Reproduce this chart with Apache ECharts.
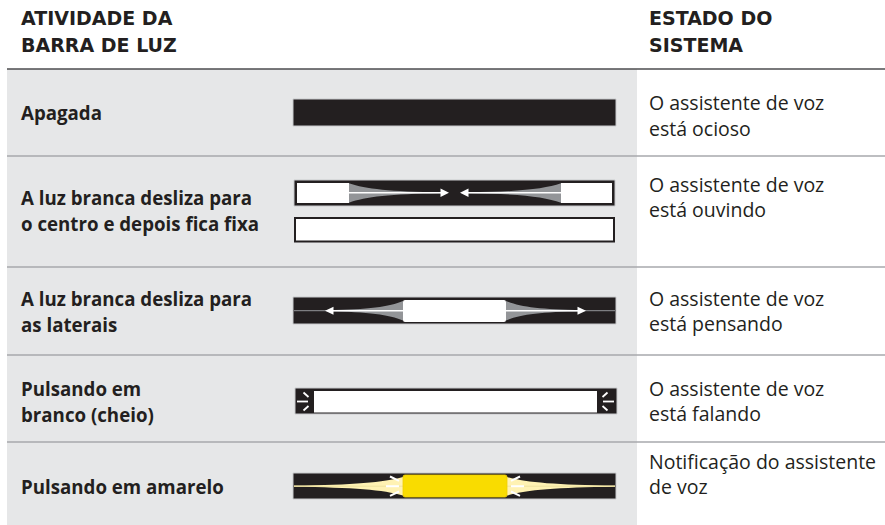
<!DOCTYPE html>
<html>
<head>
<meta charset="utf-8">
<script src="https://cdn.jsdelivr.net/npm/echarts/dist/echarts.min.js"></script>
<style>
html,body{margin:0;padding:0;background:#ffffff;}
#chart{width:885px;height:525px;}
</style>
</head>
<body>
<div id="chart"></div>
<script>
// ---- content ----
const headerActivity = 'ATIVIDADE DA\nBARRA DE LUZ';
const headerState = 'ESTADO DO\nSISTEMA';
const activities = [
  'Apagada',
  'A luz branca desliza para\no centro e depois fica fixa',
  'A luz branca desliza para\nas laterais',
  'Pulsando em\nbranco (cheio)',
  'Pulsando em amarelo'
];
const states = [
  'O assistente de voz\nestá ocioso',
  'O assistente de voz\nestá ouvindo',
  'O assistente de voz\nestá pensando',
  'O assistente de voz\nestá falando',
  'Notificação do assistente\nde voz'
];
const patterns = ['off', 'slideToCenter', 'slideToSides', 'pulseWhite', 'pulseYellow'];

// ---- layout (pixels on a 1:1 value grid) ----
const W = 885, H = 525;
const rowLines = [69, 156, 267, 355, 442, 525];
const leftCenters = [112.5, 210, 311, 401, 486];
const rightCenters = [115.5, 197, 311, 401, 474];
const DARK = '#231f20', GRAY = '#939598', BG = '#e6e7e8', LINE = '#a7a9ac';
const FONT = '"Open Sans", "Noto Sans", sans-serif';
const HFONT = '"DejaVu Sans", "Open Sans", sans-serif';

function renderRow(params, api) {
  const i = api.value(0);
  const P = (x, y) => api.coord([x, y]);
  const S = (w, h) => api.size([w, h]);
  const kids = [];
  function rect(x, y, w, h, style, r) {
    const p = P(x, y), s = S(w, h);
    kids.push({type: 'rect', shape: {x: p[0], y: p[1], width: s[0], height: s[1], r: r || 0}, style: style});
  }
  function line(x1, y1, x2, y2, color, lw) {
    const a = P(x1, y1), b = P(x2, y2);
    kids.push({type: 'line', shape: {x1: a[0], y1: a[1], x2: b[0], y2: b[1]}, style: {stroke: color, lineWidth: lw, lineCap: 'butt'}});
  }
  function poly(pts, fill) {
    kids.push({type: 'polygon', shape: {points: pts.map(q => P(q[0], q[1]))}, style: {fill: fill}});
  }
  function path(cmds, fill) {
    let d = '';
    cmds.forEach(c => {
      d += c[0];
      for (let k = 1; k < c.length; k += 2) {
        const p = P(c[k], c[k + 1]);
        d += ' ' + p[0].toFixed(2) + ' ' + p[1].toFixed(2);
      }
      d += ' ';
    });
    kids.push({type: 'path', shape: {pathData: d}, style: {fill: fill}});
  }
  function wedge(x0, x1, top, bot, cy, half, fill) {
    const dx = x1 - x0;
    path([
      ['M', x0, top],
      ['C', x0 + dx * 0.18, top + (cy - top) * 0.6, x0 + dx * 0.45, cy - half * 2.2, x1, cy - half],
      ['L', x1, cy + half],
      ['C', x0 + dx * 0.45, cy + half * 2.2, x0 + dx * 0.18, bot - (bot - cy) * 0.6, x0, bot],
      ['Z']
    ], fill);
  }

  const pat = patterns[i];
  if (pat === 'off') {
    rect(293, 99, 323, 27, {fill: DARK, stroke: '#c9cacc', lineWidth: 1});
  } else if (pat === 'slideToCenter') {
    rect(294, 180, 321, 26, {fill: DARK, stroke: '#c9cacc', lineWidth: 1});
    rect(297, 183, 52, 20, {fill: '#ffffff'});
    rect(561, 183, 51, 20, {fill: '#ffffff'});
    wedge(349, 441, 183.3, 202.7, 192.8, 0.5, GRAY);
    wedge(561, 468, 183.3, 202.7, 192.8, 0.5, GRAY);
    line(349, 192.8, 443, 192.8, '#ffffff', 1.5);
    poly([[440.5, 188.6], [449, 192.8], [440.5, 197]], '#ffffff');
    line(466, 192.8, 561, 192.8, '#ffffff', 1.5);
    poly([[468.5, 188.6], [460, 192.8], [468.5, 197]], '#ffffff');
    rect(295, 218, 319, 23.5, {fill: '#ffffff', stroke: DARK, lineWidth: 2});
  } else if (pat === 'slideToSides') {
    rect(293, 297, 323, 27, {fill: DARK, stroke: '#c9cacc', lineWidth: 1});
    line(294, 310.7, 615, 310.7, GRAY, 1);
    wedge(403, 327, 301, 320.5, 310.7, 0.5, GRAY);
    wedge(506, 582, 301, 320.5, 310.7, 0.5, GRAY);
    line(331, 310.7, 580, 310.7, '#ffffff', 1.5);
    poly([[333.5, 306.7], [325, 310.7], [333.5, 314.7]], '#ffffff');
    poly([[577.5, 306.7], [586, 310.7], [577.5, 314.7]], '#ffffff');
    rect(403, 300, 103, 22, {fill: '#ffffff'}, 2);
  } else if (pat === 'pulseWhite') {
    rect(295, 388, 322, 26, {fill: DARK, stroke: '#c9cacc', lineWidth: 1});
    rect(314, 391, 283, 21.5, {fill: '#ffffff'});
    line(297, 401.5, 308, 401.5, '#ffffff', 1.8);
    line(303.5, 392.5, 308.5, 397, '#ffffff', 1.8);
    line(303.5, 410.5, 308.5, 406, '#ffffff', 1.8);
    line(603, 401.5, 614, 401.5, '#ffffff', 1.8);
    line(602.5, 397, 607.5, 392.5, '#ffffff', 1.8);
    line(602.5, 406, 607.5, 410.5, '#ffffff', 1.8);
  } else if (pat === 'pulseYellow') {
    rect(293, 473, 323, 26, {fill: DARK, stroke: '#c9cacc', lineWidth: 1});
    wedge(403, 294, 477, 495.5, 486.2, 0.6, '#fff2b3');
    wedge(507, 615, 477, 495.5, 486.2, 0.6, '#fff2b3');
    line(294, 486.2, 615, 486.2, '#efe2a0', 1);
    rect(403, 475, 104, 22, {fill: '#f9dc00', stroke: '#f0cf00', lineWidth: 0.8}, 2);
    line(386, 486.2, 399, 486.2, '#ffffff', 2);
    line(390, 476.5, 399, 480.8, '#ffffff', 2);
    line(390, 495.8, 399, 491.5, '#ffffff', 2);
    line(511, 486.2, 524, 486.2, '#ffffff', 2);
    line(511, 480.8, 520, 476.5, '#ffffff', 2);
    line(511, 491.5, 520, 495.8, '#ffffff', 2);
  }

  // texts
  const lp = P(21, leftCenters[i]);
  kids.push({type: 'text', style: {text: activities[i], x: lp[0], y: lp[1], fill: DARK,
    font: 'bold 18.7px ' + FONT, lineHeight: 26, align: 'left', verticalAlign: 'middle'}});
  const rp = P(649, rightCenters[i]);
  kids.push({type: 'text', style: {text: states[i], x: rp[0], y: rp[1], fill: DARK,
    font: 'normal 19.5px ' + FONT, lineHeight: 25.5, align: 'left', verticalAlign: 'middle'}});
  return {type: 'group', children: kids};
}

function renderTable(params, api) {
  const P = (x, y) => api.coord([x, y]);
  const kids = [];
  const a = P(7, rowLines[0]), b = P(637, H);
  kids.push({type: 'rect', shape: {x: a[0], y: a[1], width: b[0] - a[0], height: b[1] - a[1]}, style: {fill: BG}});
  rowLines.slice(1, -1).forEach(y => {
    const p1 = P(7, y), p2 = P(W, y);
    kids.push({type: 'line', shape: {x1: p1[0], y1: p1[1], x2: p2[0], y2: p2[1]}, style: {stroke: LINE, lineWidth: 1.5}});
  });
  const h1 = P(7, rowLines[0]), h2 = P(W, rowLines[0]);
  kids.push({type: 'line', shape: {x1: h1[0], y1: h1[1], x2: h2[0], y2: h2[1]}, style: {stroke: '#4d4d4f', lineWidth: 1.5}});
  const t1 = P(21, 31.5), t2 = P(649, 31.5);
  kids.push({type: 'text', style: {text: headerActivity, x: t1[0], y: t1[1], fill: DARK,
    font: 'bold 19px ' + HFONT, lineHeight: 27, align: 'left', verticalAlign: 'middle'}});
  kids.push({type: 'text', style: {text: headerState, x: t2[0], y: t2[1], fill: DARK,
    font: 'bold 19px ' + HFONT, lineHeight: 27, align: 'left', verticalAlign: 'middle'}});
  return {type: 'group', children: kids};
}

const chart = echarts.init(document.getElementById('chart'), null, {renderer: 'svg'});
chart.setOption({
  animation: false,
  backgroundColor: '#ffffff',
  grid: {left: 0, right: 0, top: 0, bottom: 0},
  xAxis: {type: 'value', min: 0, max: W, show: false},
  yAxis: {type: 'value', min: 0, max: H, inverse: true, show: false},
  series: [
    {type: 'custom', name: 'table', renderItem: renderTable, data: [[0]], silent: true, z: 1},
    {type: 'custom', name: 'rows', renderItem: renderRow, data: activities.map((_, i) => [i]), silent: true, z: 2}
  ]
});
</script>
</body>
</html>
